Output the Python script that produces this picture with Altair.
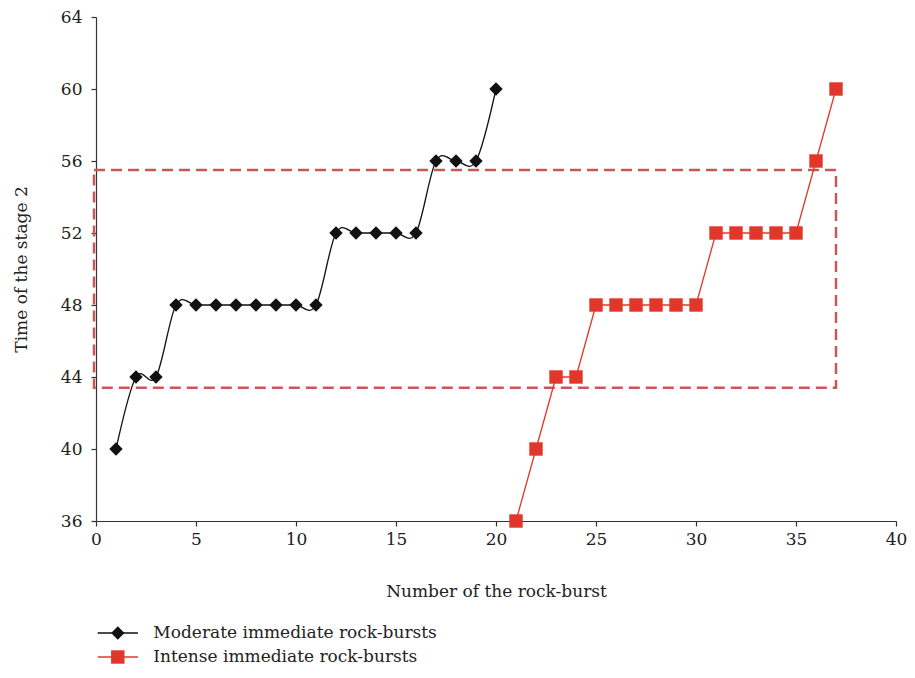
import altair as alt
import pandas as pd

# Data
moderate_x = list(range(1, 21))
moderate_y = [40, 44, 44, 48, 48, 48, 48, 48, 48, 48, 48, 52, 52, 52, 52, 52, 56, 56, 56, 60]
intense_x = list(range(21, 38))
intense_y = [36, 40, 44, 44, 48, 48, 48, 48, 48, 48, 52, 52, 52, 52, 52, 56, 60]
series_names = ["Moderate immediate rock-bursts", "Intense immediate rock-bursts"]
series_keys = ["m", "i"]
series_colors = ["#111111", "#e2362a"]
box_x = [-0.1]
box_x2 = [37.0]
box_y = [43.4]
box_y2 = [55.5]

x_ticks = [0, 5, 10, 15, 20, 25, 30, 35, 40]
y_ticks = [36, 40, 44, 48, 52, 56, 60, 64]

FONT = "DejaVu Serif"
FS = 17

df_mod = pd.DataFrame({"x": moderate_x, "y": moderate_y, "series": series_names[0], "key": series_keys[0]})
df_int = pd.DataFrame({"x": intense_x, "y": intense_y, "series": series_names[1], "key": series_keys[1]})
df_all = pd.concat([df_mod, df_int], ignore_index=True)
df_box = pd.DataFrame({"x": box_x, "x2": box_x2, "y": box_y, "y2": box_y2})

xscale = alt.Scale(domain=[0, 40], nice=False, zero=False)
yscale = alt.Scale(domain=[36, 64], nice=False, zero=False)

xaxis = alt.Axis(values=x_ticks, grid=False, title="Number of the rock-burst",
                 titlePadding=36, labelPadding=5, tickSize=5, labelFlush=False)
yaxis = alt.Axis(values=y_ticks, grid=False, title="Time of the stage 2",
                 titlePadding=30, labelPadding=9, tickSize=5, labelFlush=False)

box = alt.Chart(df_box).mark_rect(
    fillOpacity=0, stroke="#c9575a", strokeDash=[11, 6], strokeWidth=2.5
).encode(
    x=alt.X("x:Q", scale=xscale, axis=xaxis),
    x2="x2:Q",
    y=alt.Y("y:Q", scale=yscale, axis=yaxis),
    y2="y2:Q",
)

SYM = 180
LX = 13.3
LY = 607.5

color_enc = alt.Color(
    "series:N",
    scale=alt.Scale(domain=series_names, range=series_colors),
    legend=alt.Legend(
        title=None, orient="none", legendX=LX, legendY=LY, symbolType="M-3,0L3,0",
        symbolSize=SYM, symbolStrokeWidth=1.5, labelFont=FONT, labelFontSize=FS,
        labelColor="#222", labelOffset=27, rowPadding=6, padding=0, labelLimit=400,
    ),
)

line_mod = alt.Chart(df_all).transform_filter(
    alt.datum.key == series_keys[0]
).mark_line(interpolate="cardinal", strokeWidth=1.3).encode(
    x=alt.X("x:Q", scale=xscale),
    y=alt.Y("y:Q", scale=yscale),
    color=color_enc,
)

line_int = alt.Chart(df_all).transform_filter(
    alt.datum.key == series_keys[1]
).mark_line(interpolate="linear", strokeWidth=1.3).encode(
    x=alt.X("x:Q", scale=xscale),
    y=alt.Y("y:Q", scale=yscale),
    color=color_enc,
)

shape_legend = alt.Legend(
    title=None, orient="none", legendX=LX, legendY=LY,
    symbolSize=SYM, symbolStrokeWidth=0, labelFont=FONT,
    labelFontSize=FS, labelExpr="''", labelOffset=27, rowPadding=6, padding=0,
)

points = alt.Chart(df_all).mark_point(filled=True, size=SYM, opacity=1, strokeWidth=0).encode(
    x=alt.X("x:Q", scale=xscale),
    y=alt.Y("y:Q", scale=yscale),
    fill=alt.Fill("key:N", scale=alt.Scale(domain=series_keys, range=series_colors),
                  legend=shape_legend),
    shape=alt.Shape("key:N", scale=alt.Scale(domain=series_keys, range=["diamond", "square"]),
                    legend=shape_legend),
)

chart = alt.layer(box, line_mod, line_int, points).properties(
    width=800, height=504,
    autosize=alt.AutoSizeParams(type="none"),
    padding={"left": 88, "top": 9, "right": 11, "bottom": 148},
).configure_view(stroke=None).configure_axis(
    labelFont=FONT, titleFont=FONT, labelFontSize=FS, titleFontSize=FS,
    labelColor="#222", titleColor="#222", titleFontWeight="normal",
    domainColor="#333", tickColor="#333", domainWidth=1.2, tickWidth=1.2,
)

chart.save("out.html", embed_options={"renderer": "svg", "actions": False})
